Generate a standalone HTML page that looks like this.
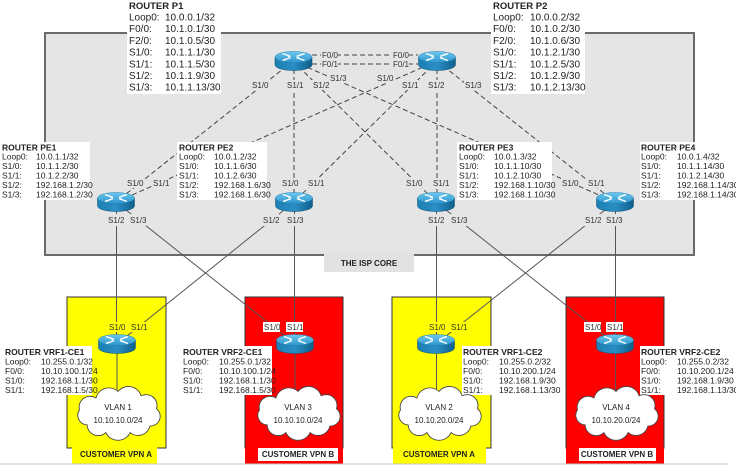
<!DOCTYPE html>
<html><head><meta charset="utf-8"><style>
html,body{margin:0;padding:0;background:#fff;}
svg{display:block;}
text{font-family:"Liberation Sans",Arial,sans-serif;fill:#222;}
.t10{font-size:10px;}
.b10{font-size:9.5px;font-weight:bold;}
.t8{font-size:8.5px;}
.b8{font-size:8.5px;font-weight:bold;}
.if{font-size:8px;fill:#333;}
.lb{font-size:8px;font-weight:bold;}
.d{stroke:#444;stroke-width:1;stroke-dasharray:5,3;fill:none;}
.s{stroke:#555;stroke-width:1;fill:none;}
</style></head><body>
<svg width="736" height="465" viewBox="0 0 736 465" xmlns="http://www.w3.org/2000/svg">
<defs>
<linearGradient id="gt" x1="0" y1="0" x2="0" y2="1"><stop offset="0" stop-color="#6cc8ee"/><stop offset="1" stop-color="#2e95cc"/></linearGradient>
<linearGradient id="gs" x1="0" y1="0" x2="1" y2="0"><stop offset="0" stop-color="#1c7fb4"/><stop offset="0.5" stop-color="#2a8fc4"/><stop offset="1" stop-color="#0f5f8c"/></linearGradient>
<g id="rt">
<path d="M-18.5,-4 L-18.5,4 A18.5,5.5 0 0 0 18.5,4 L18.5,-4 Z" fill="url(#gs)" stroke="#0d4f73" stroke-width="0.5"/>
<ellipse cx="0" cy="-4" rx="18.5" ry="5.5" fill="url(#gt)" stroke="#2582b5" stroke-width="0.5"/>
<path d="M-11,-7.5 L-3,-4.6 M3,-3.4 L11,-0.5 M11,-7.5 L3,-4.6 M-3,-3.4 L-11,-0.5" stroke="#fff" stroke-width="1.3" fill="none"/>
<path d="M-3,-4.6 L-6,-6.2 L-5.5,-3.8 Z M3,-3.4 L6,-1.8 L5.5,-4.2 Z M11,-7.5 L7.5,-7.4 L9,-5.6 Z M-11,-0.5 L-7.5,-0.6 L-9,-2.4 Z" fill="#fff"/>
</g>
<path id="cl" d="M-28,12 A9,9 0 0 1 -35,-2 A10,10 0 0 1 -20,-13 A12,12 0 0 1 0,-19 A12,12 0 0 1 21,-15 A10,10 0 0 1 35,-3 A9,9 0 0 1 29,13 A11,11 0 0 1 11,19 A12,12 0 0 1 -11,19 A10,10 0 0 1 -28,12 Z" fill="#fff" stroke="#444" stroke-width="0.8"/>
</defs>

<rect x="0" y="0" width="736" height="465" fill="#fff"/>

<!-- ISP core box -->
<rect x="45" y="33" width="649" height="222" fill="#e5e5e5" stroke="#6a6a6a" stroke-width="2"/>
<rect x="324" y="253" width="90" height="19" fill="#e2e2e2"/>
<text class="lb" x="369" y="266" text-anchor="middle">THE ISP CORE</text>

<!-- customer boxes -->
<rect x="67" y="297" width="99" height="151" fill="#ffff00" stroke="#333" stroke-width="1"/>
<rect x="72" y="447.5" width="85" height="16.5" fill="#ffff00"/>
<rect x="245" y="297" width="98" height="151" fill="#ff0000" stroke="#333" stroke-width="1"/>
<rect x="245" y="447.5" width="98" height="16.5" fill="#ff0000"/>
<rect x="392" y="297" width="99" height="151" fill="#ffff00" stroke="#333" stroke-width="1"/>
<rect x="393" y="447.5" width="93" height="16.5" fill="#ffff00"/>
<rect x="566" y="297" width="98" height="151" fill="#ff0000" stroke="#333" stroke-width="1"/>
<rect x="566" y="447.5" width="98" height="16.5" fill="#ff0000"/>
<line x1="0" y1="464" x2="728" y2="464" stroke="#c4c4c4" stroke-width="1"/>

<!-- dashed core links -->
<line class="d" x1="312" y1="55" x2="418" y2="55"/>
<line class="d" x1="312" y1="64" x2="418" y2="64"/>
<line class="d" x1="293" y1="61" x2="116" y2="202"/>
<line class="d" x1="437" y1="61" x2="116" y2="202"/>
<line class="d" x1="294" y1="61" x2="294" y2="202"/>
<line class="d" x1="437" y1="61" x2="294" y2="202"/>
<line class="d" x1="293" y1="61" x2="436" y2="202"/>
<line class="d" x1="437" y1="61" x2="437" y2="202"/>
<line class="d" x1="293" y1="61" x2="615" y2="202"/>
<line class="d" x1="437" y1="61" x2="615" y2="202"/>

<!-- solid links -->
<line class="s" x1="116.5" y1="202" x2="116.5" y2="344"/>
<line class="s" x1="116" y1="202" x2="295" y2="344"/>
<line class="s" x1="294" y1="202" x2="117" y2="344"/>
<line class="s" x1="294.5" y1="202" x2="294.5" y2="344"/>
<line class="s" x1="436.5" y1="202" x2="436.5" y2="344"/>
<line class="s" x1="436" y1="202" x2="615" y2="344"/>
<line class="s" x1="615" y1="202" x2="436" y2="344"/>
<line class="s" x1="615.5" y1="202" x2="615.5" y2="344"/>
<line class="s" x1="117" y1="344" x2="117" y2="400"/>
<line class="s" x1="295" y1="344" x2="295" y2="400"/>
<line class="s" x1="436.5" y1="344" x2="436.5" y2="400"/>
<line class="s" x1="615.5" y1="344" x2="615.5" y2="400"/>

<!-- interface labels core -->
<g fill="#e5e5e5">
<rect x="321" y="50" width="17" height="9"/><rect x="392" y="50" width="17" height="9"/>
<rect x="321" y="59.5" width="17" height="9"/><rect x="392" y="59.5" width="17" height="9"/>
<rect x="251" y="80" width="17" height="10"/><rect x="286" y="80" width="17" height="10"/><rect x="312" y="80" width="17" height="10"/><rect x="329" y="73" width="17" height="10"/>
<rect x="376" y="73" width="17" height="10"/><rect x="401" y="80" width="17" height="10"/><rect x="427" y="80" width="17" height="10"/><rect x="464" y="80" width="17" height="10"/>
<rect x="126" y="178" width="17" height="10"/><rect x="152" y="178" width="17" height="10"/><rect x="107" y="214" width="17" height="12"/><rect x="129" y="214" width="17" height="12"/>
<rect x="281" y="178" width="17" height="10"/><rect x="307" y="178" width="17" height="10"/><rect x="262" y="214" width="17" height="12"/><rect x="286" y="214" width="17" height="12"/>
<rect x="405" y="178" width="17" height="10"/><rect x="432" y="178" width="17" height="10"/><rect x="427" y="214" width="17" height="12"/><rect x="450" y="214" width="17" height="12"/>
<rect x="561" y="178" width="17" height="10"/><rect x="587" y="178" width="17" height="10"/><rect x="584" y="214" width="17" height="12"/><rect x="605" y="214" width="17" height="12"/>
</g>
<g class="if">
<text x="322" y="58" class="if">F0/0</text><text x="393" y="58" class="if">F0/0</text>
<text x="322" y="67" class="if">F0/1</text><text x="393" y="67" class="if">F0/1</text>
<text x="252" y="88" class="if">S1/0</text><text x="287" y="88" class="if">S1/1</text><text x="313" y="88" class="if">S1/2</text><text x="330" y="81" class="if">S1/3</text>
<text x="377" y="81" class="if">S1/0</text><text x="402" y="88" class="if">S1/1</text><text x="428" y="88" class="if">S1/2</text><text x="465" y="88" class="if">S1/3</text>
<text x="127" y="186" class="if">S1/0</text><text x="153" y="186" class="if">S1/1</text><text x="108" y="223" class="if">S1/2</text><text x="130" y="223" class="if">S1/3</text>
<text x="282" y="186" class="if">S1/0</text><text x="308" y="186" class="if">S1/1</text><text x="263" y="223" class="if">S1/2</text><text x="287" y="223" class="if">S1/3</text>
<text x="406" y="186" class="if">S1/0</text><text x="433" y="186" class="if">S1/1</text><text x="428" y="223" class="if">S1/2</text><text x="451" y="223" class="if">S1/3</text>
<text x="562" y="186" class="if">S1/0</text><text x="588" y="186" class="if">S1/1</text><text x="585" y="223" class="if">S1/2</text><text x="606" y="223" class="if">S1/3</text>
</g>

<!-- CE interface labels -->
<rect x="108" y="322" width="17" height="10" fill="#ffff00"/><rect x="130" y="322" width="17" height="10" fill="#ffff00"/>
<rect x="263" y="322" width="17" height="10" fill="#fff"/><rect x="286" y="322" width="17" height="10" fill="#fff"/>
<rect x="428" y="322" width="17" height="10" fill="#ffff00"/><rect x="450" y="322" width="17" height="10" fill="#ffff00"/>
<rect x="584" y="322" width="17" height="10" fill="#fff"/><rect x="606" y="322" width="17" height="10" fill="#fff"/>
<text x="109" y="330" class="if">S1/0</text><text x="131" y="330" class="if">S1/1</text>
<text x="264" y="330" class="if">S1/0</text><text x="287" y="330" class="if">S1/1</text>
<text x="429" y="330" class="if">S1/0</text><text x="451" y="330" class="if">S1/1</text>
<text x="585" y="330" class="if">S1/0</text><text x="607" y="330" class="if">S1/1</text>

<!-- customer labels -->
<text class="lb" x="116" y="457" text-anchor="middle">CUSTOMER VPN A</text>
<rect x="258" y="448" width="80" height="13" fill="#fff"/>
<text class="lb" x="298" y="457" text-anchor="middle">CUSTOMER VPN B</text>
<text class="lb" x="439" y="457" text-anchor="middle">CUSTOMER VPN A</text>
<rect x="579" y="448" width="77" height="13" fill="#fff"/>
<text class="lb" x="617" y="457" text-anchor="middle">CUSTOMER VPN B</text>

<!-- P labels -->
<rect x="127" y="0" width="94" height="94" fill="#fff"/>
<text class="b10" x="129" y="9">ROUTER P1</text>
<g class="t10">
<text x="129" y="20.5">Loop0:</text><text x="165" y="20.5">10.0.0.1/32</text>
<text x="129" y="32.2">F0/0:</text><text x="165" y="32.2">10.1.0.1/30</text>
<text x="129" y="43.9">F2/0:</text><text x="165" y="43.9">10.1.0.5/30</text>
<text x="129" y="55.6">S1/0:</text><text x="165" y="55.6">10.1.1.1/30</text>
<text x="129" y="67.3">S1/1:</text><text x="165" y="67.3">10.1.1.5/30</text>
<text x="129" y="79">S1/2:</text><text x="165" y="79">10.1.1.9/30</text>
<text x="129" y="90.7">S1/3:</text><text x="165" y="90.7">10.1.1.13/30</text>
</g>
<rect x="491" y="0" width="94" height="94" fill="#fff"/>
<text class="b10" x="493" y="9">ROUTER P2</text>
<g class="t10">
<text x="493" y="20.5">Loop0:</text><text x="530" y="20.5">10.0.0.2/32</text>
<text x="493" y="32.2">F0/0:</text><text x="530" y="32.2">10.1.0.2/30</text>
<text x="493" y="43.9">F2/0:</text><text x="530" y="43.9">10.1.0.6/30</text>
<text x="493" y="55.6">S1/0:</text><text x="530" y="55.6">10.1.2.1/30</text>
<text x="493" y="67.3">S1/1:</text><text x="530" y="67.3">10.1.2.5/30</text>
<text x="493" y="79">S1/2:</text><text x="530" y="79">10.1.2.9/30</text>
<text x="493" y="90.7">S1/3:</text><text x="530" y="90.7">10.1.2.13/30</text>
</g>

<!-- PE labels -->
<rect x="0" y="142" width="90" height="58" fill="#fff"/>
<text class="b8" x="2" y="150.5">ROUTER PE1</text>
<g class="t8">
<text x="2" y="159.5">Loop0:</text><text x="36" y="159.5">10.0.1.1/32</text>
<text x="2" y="169">S1/0:</text><text x="36" y="169">10.1.1.2/30</text>
<text x="2" y="178.5">S1/1:</text><text x="36" y="178.5">10.1.2.2/30</text>
<text x="2" y="188">S1/2:</text><text x="36" y="188">192.168.1.2/30</text>
<text x="2" y="197.5">S1/3:</text><text x="36" y="197.5">192.168.1.2/30</text>
</g>
<rect x="177" y="142" width="90" height="58" fill="#fff"/>
<text class="b8" x="179" y="150.5">ROUTER PE2</text>
<g class="t8">
<text x="179" y="159.5">Loop0:</text><text x="214" y="159.5">10.0.1.2/32</text>
<text x="179" y="169">S1/0:</text><text x="214" y="169">10.1.1.6/30</text>
<text x="179" y="178.5">S1/1:</text><text x="214" y="178.5">10.1.2.6/30</text>
<text x="179" y="188">S1/2:</text><text x="214" y="188">192.168.1.6/30</text>
<text x="179" y="197.5">S1/3:</text><text x="214" y="197.5">192.168.1.6/30</text>
</g>
<rect x="457" y="142" width="95" height="58" fill="#fff"/>
<text class="b8" x="459" y="150.5">ROUTER PE3</text>
<g class="t8">
<text x="459" y="159.5">Loop0:</text><text x="494" y="159.5">10.0.1.3/32</text>
<text x="459" y="169">S1/0:</text><text x="494" y="169">10.1.1.10/30</text>
<text x="459" y="178.5">S1/1:</text><text x="494" y="178.5">10.1.2.10/30</text>
<text x="459" y="188">S1/2:</text><text x="494" y="188">192.168.1.10/30</text>
<text x="459" y="197.5">S1/3:</text><text x="494" y="197.5">192.168.1.10/30</text>
</g>
<rect x="640" y="142" width="96" height="58" fill="#fff"/>
<text class="b8" x="641" y="150.5">ROUTER PE4</text>
<g class="t8">
<text x="641" y="159.5">Loop0:</text><text x="677" y="159.5">10.0.1.4/32</text>
<text x="641" y="169">S1/0:</text><text x="677" y="169">10.1.1.14/30</text>
<text x="641" y="178.5">S1/1:</text><text x="677" y="178.5">10.1.2.14/30</text>
<text x="641" y="188">S1/2:</text><text x="677" y="188">192.168.1.14/30</text>
<text x="641" y="197.5">S1/3:</text><text x="677" y="197.5">192.168.1.14/30</text>
</g>

<!-- CE labels -->
<rect x="4" y="346" width="88" height="49" fill="#fff"/>
<text class="b8" x="5" y="355">ROUTER VRF1-CE1</text>
<g class="t8">
<text x="5" y="364.5">Loop0:</text><text x="41" y="364.5">10.255.0.1/32</text>
<text x="5" y="374">F0/0:</text><text x="41" y="374">10.10.100.1/24</text>
<text x="5" y="383.5">S1/0:</text><text x="41" y="383.5">192.168.1.1/30</text>
<text x="5" y="393">S1/1:</text><text x="41" y="393">192.168.1.5/30</text>
</g>
<rect x="182" y="346" width="90" height="49" fill="#fff"/>
<text class="b8" x="183" y="355">ROUTER VRF2-CE1</text>
<g class="t8">
<text x="183" y="364.5">Loop0:</text><text x="219" y="364.5">10.255.0.1/32</text>
<text x="183" y="374">F0/0:</text><text x="219" y="374">10.10.100.1/24</text>
<text x="183" y="383.5">S1/0:</text><text x="219" y="383.5">192.168.1.1/30</text>
<text x="183" y="393">S1/1:</text><text x="219" y="393">192.168.1.5/30</text>
</g>
<rect x="462" y="346" width="96" height="49" fill="#fff"/>
<text class="b8" x="463" y="355">ROUTER VRF1-CE2</text>
<g class="t8">
<text x="463" y="364.5">Loop0:</text><text x="499" y="364.5">10.255.0.2/32</text>
<text x="463" y="374">F0/0:</text><text x="499" y="374">10.10.200.1/24</text>
<text x="463" y="383.5">S1/0:</text><text x="499" y="383.5">192.168.1.9/30</text>
<text x="463" y="393">S1/1:</text><text x="499" y="393">192.168.1.13/30</text>
</g>
<rect x="640" y="346" width="96" height="49" fill="#fff"/>
<text class="b8" x="641" y="355">ROUTER VRF2-CE2</text>
<g class="t8">
<text x="641" y="364.5">Loop0:</text><text x="677" y="364.5">10.255.0.2/32</text>
<text x="641" y="374">F0/0:</text><text x="677" y="374">10.10.200.1/24</text>
<text x="641" y="383.5">S1/0:</text><text x="677" y="383.5">192.168.1.9/30</text>
<text x="641" y="393">S1/1:</text><text x="677" y="393">192.168.1.13/30</text>
</g>

<!-- routers -->
<use href="#rt" x="293.5" y="61"/>
<use href="#rt" x="437" y="61"/>
<use href="#rt" x="116" y="202"/>
<use href="#rt" x="294" y="202"/>
<use href="#rt" x="436" y="202"/>
<use href="#rt" x="615" y="202"/>
<use href="#rt" x="117" y="344"/>
<use href="#rt" x="295" y="344"/>
<use href="#rt" x="436" y="344"/>
<use href="#rt" x="615" y="344"/>

<!-- clouds -->
<g transform="translate(118,412) scale(1.1,1.08)"><use href="#cl"/></g>
<text class="if" x="118" y="410" text-anchor="middle" style="fill:#222">VLAN 1</text>
<text class="if" x="118" y="423" text-anchor="middle" style="fill:#222">10.10.10.0/24</text>
<g transform="translate(298,412) scale(1.1,1.08)"><use href="#cl"/></g>
<text class="if" x="298" y="410" text-anchor="middle" style="fill:#222">VLAN 3</text>
<text class="if" x="298" y="423" text-anchor="middle" style="fill:#222">10.10.10.0/24</text>
<g transform="translate(439,412) scale(1.1,1.08)"><use href="#cl"/></g>
<text class="if" x="439" y="410" text-anchor="middle" style="fill:#222">VLAN 2</text>
<text class="if" x="439" y="423" text-anchor="middle" style="fill:#222">10.10.20.0/24</text>
<g transform="translate(616,412) scale(1.1,1.08)"><use href="#cl"/></g>
<text class="if" x="616" y="410" text-anchor="middle" style="fill:#222">VLAN 4</text>
<text class="if" x="616" y="423" text-anchor="middle" style="fill:#222">10.10.20.0/24</text>
</svg>
</body></html>
